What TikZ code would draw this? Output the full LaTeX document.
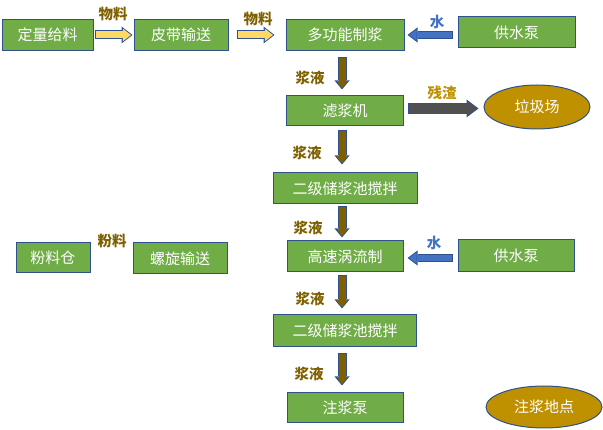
\documentclass[tikz,border=0pt]{standalone}
\usepackage{fontspec}
\setmainfont{Noto Sans CJK SC}
\usetikzlibrary{arrows.meta,positioning,calc,shapes.geometric}
\definecolor{boxgreen}{HTML}{70AD47}
\definecolor{edge}{HTML}{2F528F}
\definecolor{feedyel}{HTML}{FFD966}
\definecolor{slurry}{HTML}{7F6000}
\definecolor{water}{HTML}{4472C4}
\definecolor{waste}{HTML}{505050}
\definecolor{gold}{HTML}{BF9000}
\tikzset{
  proc/.style={draw=edge,line width=1pt,fill=boxgreen,text=white,inner sep=0pt,
    minimum height=31pt,font=\fontsize{15}{18}\selectfont},
  site/.style={ellipse,draw=edge,line width=1pt,fill=gold,text=white,inner sep=0pt,
    font=\fontsize{15}{18}\selectfont},
  tag/.style={text=#1,inner sep=0pt,font=\fontsize{14.5}{16}\selectfont\bfseries},
  blk/.style n args={4}{draw=#1,line width=#2,shorten >=1.5pt,
    -{Triangle[width=#3,length=#4,line width=0pt,scale=0.75]},
    preaction={draw=edge,line width=#2+2pt,shorten >=0pt,shorten <=-1pt,
      -{Triangle[width=#3,length=#4,line width=0pt]}}}
}
\begin{document}
\begin{tikzpicture}[x=1pt,y=-1pt]
\useasboundingbox (0,0) rectangle (603,430);
% top row
\node[proc,minimum width=91pt] (feed) at (47.5,35) {定量给料};
\node[proc,minimum width=94pt] (belt) at (181,35) {皮带输送};
\node[proc,minimum width=118pt] (pulp) at (345,35) {多功能制浆};
\node[proc,minimum width=117pt] (pump1) at (516.5,32.5) {供水泵};
% main column
\node[proc,minimum width=117pt,minimum height=30pt] (filter) at (345,111) {滤浆机};
\node[site,minimum width=106pt,minimum height=44pt] (dump) at (537,107) {垃圾场};
\node[proc,minimum width=144pt] (tank1) at (345,188.5) {二级储浆池搅拌};
\node[proc,minimum width=116pt] (vortex) at (345,256.5) {高速涡流制};
\node[proc,minimum width=116pt,minimum height=32pt] (pump2) at (516,256) {供水泵};
\node[proc,minimum width=143pt,minimum height=32pt] (tank2) at (345,331) {二级储浆池搅拌};
\node[proc,minimum width=116pt,minimum height=30pt] (grout) at (345,408) {注浆泵};
\node[site,minimum width=116pt,minimum height=42pt] (spot) at (544,407) {注浆地点};
% powder line
\node[proc,minimum width=74pt,minimum height=30pt] (bin) at (53,258) {粉料仓};
\node[proc,minimum width=94pt] (screw) at (180,258.5) {螺旋输送};
% flows
\draw[blk={feedyel}{7pt}{17pt}{11pt}] ($(feed.east)+(2,0)$) -- ($(belt.west)+(-1,0)$);
\draw[blk={feedyel}{7pt}{17pt}{11pt}] ($(belt.east)+(9,0)$) -- ($(pulp.west)+(-11,0)$);
\draw[blk={water}{6pt}{15pt}{10pt}] ($(pump1.west |- pulp.east)+(-6,0)$) -- ($(pulp.east)+(3,0)$);
\draw[blk={slurry}{7pt}{15pt}{9pt}] ($(pulp.south)+(-3,7)$) -- ($(filter.north)+(-3,-6)$);
\draw[blk={waste}{9pt}{18pt}{12pt}] ($(filter.east)+(4.5,-2.5)$) -- ($(filter.east -| dump.west)+(-5,-2.5)$);
\draw[blk={slurry}{7pt}{15pt}{9pt}] ($(filter.south)+(-3,5)$) -- ($(tank1.north)+(-3,-8)$);
\draw[blk={slurry}{7pt}{15pt}{9pt}] ($(tank1.south)+(-3,3)$) -- ($(vortex.north)+(-3,-3)$);
\draw[blk={water}{6pt}{15pt}{10pt}] ($(pump2.west |- vortex.east)+(-6,1.5)$) -- ($(vortex.east)+(4,1.5)$);
\draw[blk={slurry}{7pt}{15pt}{9pt}] ($(vortex.south)+(-3,4)$) -- ($(tank2.north)+(-3,-6)$);
\draw[blk={slurry}{7pt}{15pt}{9pt}] ($(tank2.south)+(-3,7)$) -- ($(grout.north)+(-3,-7)$);
% flow labels
\node[tag=slurry] (m1) at (113,14) {物料};\node[tag=slurry] (m2) at (258,19) {物料};
\node[tag=water] (w1) at (437,22) {水};\node[tag=water] (w2) at (434,243) {水};
\node[tag=gold] (r1) at (442,93) {残渣};\node[tag=slurry] (f1) at (112,241) {粉料};
\node[tag=slurry] (s1) at (310,78) {浆液};\node[tag=slurry] (s2) at (307,153) {浆液};
\node[tag=slurry] (s3) at (308,228) {浆液};\node[tag=slurry] (s4) at (310,299) {浆液};
\node[tag=slurry] (s5) at (309,374) {浆液};
\end{tikzpicture}
\end{document}
